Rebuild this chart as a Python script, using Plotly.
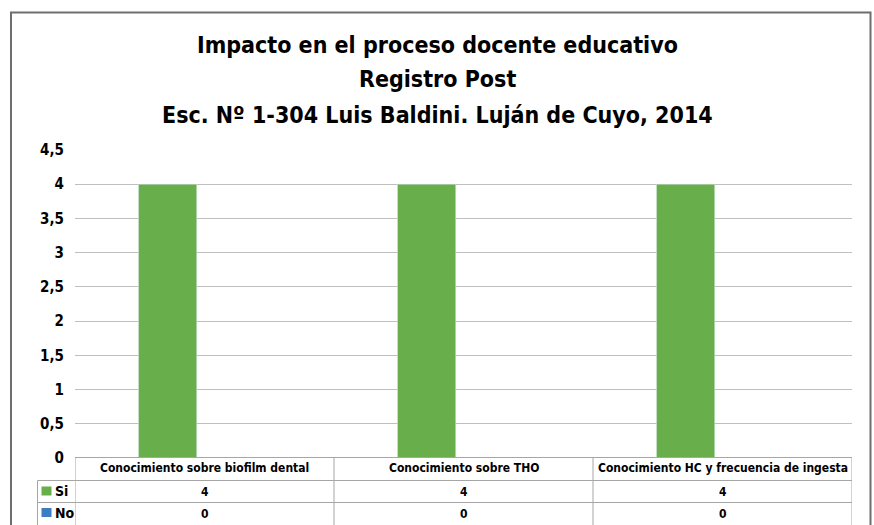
import plotly.graph_objects as go

categories = ["Conocimiento sobre biofilm dental", "Conocimiento sobre THO",
              "Conocimiento HC y frecuencia de ingesta"]
series_names = ["Si", "No"]
si_values = [4, 4, 4]
no_values = [0, 0, 0]
title_lines = ["Impacto en el proceso docente educativo", "Registro Post",
               "Esc. Nº 1-304 Luis Baldini. Luján de Cuyo, 2014"]

GREEN = "#68AF4B"
BLUE = "#3B7CC3"
GRID = "#BFBFBF"
TLINE = "#A6A6A6"
FONT = "DejaVu Sans Condensed, Liberation Sans Narrow, Arial Narrow, sans-serif"

W, H = 874, 525
ML, MR, MT, MB = 75, 22, 150, 67
pw = W - ML - MR
ph = H - MT - MB
PLOT_BOTTOM = H - MB

def py(ypix):  # page pixel y -> paper y
    return (PLOT_BOTTOM - ypix) / ph

def px(xpix):  # page pixel x -> paper x
    return (xpix - ML) / pw

fig = go.Figure()
fig.add_bar(x=list(range(len(categories))), y=si_values, name=series_names[0],
            marker_color=GREEN, showlegend=False, hoverinfo="skip")
fig.add_bar(x=list(range(len(categories))), y=no_values, name=series_names[1],
            marker_color=BLUE, showlegend=False, hoverinfo="skip")

shapes = []
annotations = []

# outer chart border
shapes.append(dict(type="rect", xref="paper", yref="paper",
                   x0=px(11), x1=px(870.5), y0=py(12.5), y1=py(540),
                   line=dict(color="#6E6E6E", width=2), layer="below"))

n = len(categories)
# table horizontal lines
for ypix in [457.5, 480.5, 502.5]:
    shapes.append(dict(type="line", xref="x", yref="paper",
                       x0=-0.5, x1=n - 0.5, y0=py(ypix), y1=py(ypix),
                       line=dict(color=TLINE, width=1)))
    if ypix != 457.5:
        shapes.append(dict(type="line", xref="paper", yref="paper",
                           x0=px(37.5), x1=0, y0=py(ypix), y1=py(ypix),
                           line=dict(color=TLINE, width=1)))
# vertical lines
for i in range(n + 1):
    shapes.append(dict(type="line", xref="x", yref="paper",
                       x0=i - 0.5, x1=i - 0.5, y0=py(457.5), y1=py(530),
                       line=dict(color=TLINE, width=1)))
shapes.append(dict(type="line", xref="paper", yref="paper",
                   x0=px(37.5), x1=px(37.5), y0=py(480.5), y1=py(530),
                   line=dict(color=TLINE, width=1)))

cell_font = dict(size=12, color="#000", family=FONT)
# header text and values
for i, c in enumerate(categories):
    annotations.append(dict(x=i, y=py(468), xref="x", yref="paper", text=f"<b>{c}</b>",
                            showarrow=False, yanchor="middle", font=cell_font))
    annotations.append(dict(x=i, y=py(491.5), xref="x", yref="paper", text=f"<b>{si_values[i]}</b>",
                            showarrow=False, yanchor="middle", font=cell_font))
    annotations.append(dict(x=i, y=py(513.5), xref="x", yref="paper", text=f"<b>{no_values[i]}</b>",
                            showarrow=False, yanchor="middle", font=cell_font))

# legend keys
for name, col, ypix in [(series_names[0], GREEN, 491), (series_names[1], BLUE, 512.5)]:
    shapes.append(dict(type="rect", xref="paper", yref="paper",
                       x0=px(41.5), x1=px(51.5), y0=py(ypix + 4.5), y1=py(ypix - 4.5),
                       fillcolor=col, line=dict(width=0)))
    annotations.append(dict(x=px(52.5), y=py(ypix), xref="paper", yref="paper",
                            text=f"<b>{name}</b>", xanchor="left", yanchor="middle",
                            showarrow=False, font=dict(size=14, color="#000", family=FONT)))

# title lines
for t, ypix in zip(title_lines, [45, 79, 115]):
    annotations.append(dict(x=px(437), y=py(ypix), xref="paper", yref="paper",
                            text=f"<b>{t}</b>", showarrow=False, xanchor="center",
                            yanchor="middle",
                            font=dict(size=23, color="#000", family=FONT)))

fig.update_layout(
    width=W, height=H,
    margin=dict(l=ML, r=MR, t=MT, b=MB),
    paper_bgcolor="white", plot_bgcolor="white",
    separators=",.",
    barmode="group", bargap=0.43, bargroupgap=0.21,
    shapes=shapes, annotations=annotations,
    font=dict(family=FONT, color="#000"),
    hovermode=False,
    xaxis=dict(range=[-0.5, n - 0.5], showticklabels=False, showgrid=False,
               zeroline=False, showline=False, ticks=""),
    yaxis=dict(range=[0, 4.5], dtick=0.5, tick0=0, showgrid=True, gridcolor=GRID,
               gridwidth=1, zeroline=False, showline=False,
               tickfont=dict(size=15, family=FONT, color="#000"),
               ticklabelstandoff=10, tickprefix="<b>", ticksuffix="</b>"),
)

fig.write_html(
    "out.html",
    config={"displayModeBar": False},
    post_script="document.body.style.margin='0';document.documentElement.style.overflow='hidden';",
)
